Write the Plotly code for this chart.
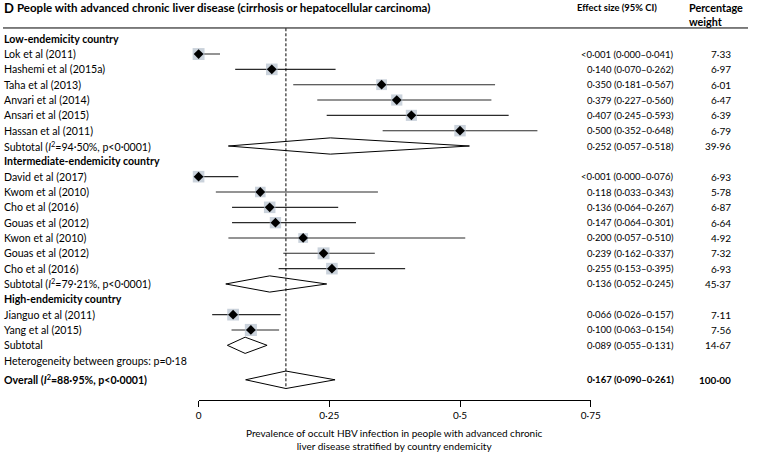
import plotly.graph_objects as go

# ---------------- data ----------------
group_names = ["Low-endemicity country", "Intermediate-endemicity country", "High-endemicity country"]
studies = ["Lok et al (2011)", "Hashemi et al (2015a)", "Taha et al (2013)", "Anvari et al (2014)",
           "Ansari et al (2015)", "Hassan et al (2011)",
           "David et al (2017)", "Kwom et al (2010)", "Cho et al (2016)", "Gouas et al (2012)",
           "Kwon et al (2010)", "Gouas et al (2012)", "Cho et al (2016)",
           "Jianguo et al (2011)", "Yang et al (2015)"]
study_group = [0, 0, 0, 0, 0, 0, 1, 1, 1, 1, 1, 1, 1, 2, 2]
est = [0.000, 0.140, 0.350, 0.379, 0.407, 0.500, 0.000, 0.118, 0.136, 0.147, 0.200, 0.239, 0.255, 0.066, 0.100]
lo = [0.000, 0.070, 0.181, 0.227, 0.245, 0.352, 0.000, 0.033, 0.064, 0.064, 0.057, 0.162, 0.153, 0.026, 0.063]
hi = [0.041, 0.262, 0.567, 0.560, 0.593, 0.648, 0.076, 0.343, 0.267, 0.301, 0.510, 0.337, 0.395, 0.157, 0.154]
weight = [7.33, 6.97, 6.01, 6.47, 6.39, 6.79, 6.93, 5.78, 6.87, 6.64, 4.92, 7.32, 6.93, 7.11, 7.56]

sub_labels = ["Subtotal (<i>I</i><sup>2</sup>=94·50%, p&lt;0·0001)",
              "Subtotal (<i>I</i><sup>2</sup>=79·21%, p&lt;0·0001)",
              "Subtotal"]
sub_est = [0.252, 0.136, 0.089]
sub_lo = [0.057, 0.052, 0.055]
sub_hi = [0.518, 0.245, 0.131]
sub_weight = [39.96, 45.37, 14.67]

het_label = "Heterogeneity between groups: p=0·18"
overall_label = "Overall (<i>I</i><sup>2</sup>=88·95%, p&lt;0·0001)"
overall_est, overall_lo, overall_hi, overall_weight = 0.167, 0.090, 0.261, 100.00

tick_vals = [0, 0.25, 0.5, 0.75]
tick_text = ["0", "0·25", "0·5", "0·75"]

title_text = "People with advanced chronic liver disease (cirrhosis or hepatocellular carcinoma)"
axis_title = ("Prevalence of occult HBV infection in people with advanced chronic<br>"
              "liver disease stratified by country endemicity")

# ---------------- helpers ----------------
FONT = "Lato"
FS_LABEL = 10.6
FS_NUM = 9.5
FS_W = 10
W, H = 758, 453


def fmt(v, allow_lt=False):
    if allow_lt and v < 0.0005:
        return "&lt;0·001"
    return f"{v:.3f}".replace(".", "·")


def ci_text(e, l, h):
    return f"{fmt(e, True)} ({fmt(l)}–{fmt(h)})"


def wfmt(w):
    return f"{w:.2f}".replace(".", "·")


# ---------------- row layout ----------------
r = 0
study_rows = [None] * len(studies)
sub_rows = []
header_rows = []
for g in range(len(group_names)):
    header_rows.append(r)
    r += 1
    for i, sg in enumerate(study_group):
        if sg == g:
            study_rows[i] = r
            r += 1
    sub_rows.append(r)
    r += 1
het_row = r
overall_row = r + 1.25

fig = go.Figure()

# CI lines
cx, cy = [], []
for i in range(len(studies)):
    cx += [lo[i], hi[i], None]
    cy += [study_rows[i], study_rows[i], None]
fig.add_trace(go.Scatter(x=cx, y=cy, mode="lines", line=dict(color="#2b2b2b", width=1.1),
                         hoverinfo="skip", showlegend=False, cliponaxis=False))

# weight squares
fig.add_trace(go.Scatter(x=est, y=study_rows, mode="markers", cliponaxis=False,
                         marker=dict(symbol="square", size=[4.4 * w ** 0.5 for w in weight],
                                     color="#b3bfcc", line=dict(width=0)),
                         hoverinfo="skip", showlegend=False))
# point diamonds
fig.add_trace(go.Scatter(x=est, y=study_rows, mode="markers", cliponaxis=False,
                         marker=dict(symbol="diamond", size=7.5, color="black", line=dict(width=0)),
                         hoverinfo="skip", showlegend=False))

# pooled diamonds
pool_est = sub_est + [overall_est]
pool_lo = sub_lo + [overall_lo]
pool_hi = sub_hi + [overall_hi]
pool_rows = sub_rows + [overall_row]
for e, l, h, rr in zip(pool_est, pool_lo, pool_hi, pool_rows):
    hk = 0.53 if rr != overall_row else 0.57
    fig.add_trace(go.Scatter(x=[l, e, h, e, l], y=[rr, rr - hk, rr, rr + hk, rr],
                             mode="lines", fill="toself", fillcolor="white", cliponaxis=False,
                             line=dict(color="black", width=1), hoverinfo="skip", showlegend=False))

# dashed line at overall estimate
fig.add_shape(type="line", xref="x", yref="y", x0=overall_est, x1=overall_est,
              y0=-0.68, y1=overall_row + 0.6, line=dict(color="black", width=1, dash="3px,2px"))

# header rule
fig.add_shape(type="line", xref="paper", yref="y", x0=0, x1=1, y0=-0.7, y1=-0.7,
              line=dict(color="black", width=1))

ann = []
EFF_X = 685 / W
WT_X = 743 / W


def left(text, row, bold=False):
    ann.append(dict(x=-1 / W, y=row, xref="paper", yref="y", xanchor="left", yanchor="middle",
                    text=f"<b>{text}</b>" if bold else text, showarrow=False,
                    font=dict(family=FONT, size=FS_LABEL, color="black")))


def right(text, row, xpos, size, bold=False):
    ann.append(dict(x=xpos, y=row, xref="paper", yref="y", xanchor="right", yanchor="middle",
                    text=f"<b>{text}</b>" if bold else text, showarrow=False,
                    font=dict(family=FONT, size=size, color="black")))


for g, hr in enumerate(header_rows):
    left(group_names[g], hr, bold=True)
for i, s in enumerate(studies):
    left(s, study_rows[i])
    right(ci_text(est[i], lo[i], hi[i]), study_rows[i], EFF_X, FS_NUM)
    right(wfmt(weight[i]), study_rows[i], WT_X, FS_W)
for g, sr in enumerate(sub_rows):
    left(sub_labels[g], sr)
    right(ci_text(sub_est[g], sub_lo[g], sub_hi[g]), sr, EFF_X, FS_NUM)
    right(wfmt(sub_weight[g]), sr, WT_X, FS_W)
left(het_label, het_row)
left(overall_label, overall_row, bold=True)
right(ci_text(overall_est, overall_lo, overall_hi), overall_row, EFF_X, FS_NUM, bold=True)
right(wfmt(overall_weight), overall_row, WT_X, FS_W, bold=True)

# headers
ann.append(dict(x=-1 / W, y=1 - 8 / H, xref="paper", yref="paper", xanchor="left", yanchor="middle",
                text="<b>D</b>", showarrow=False, font=dict(family=FONT, size=13, color="black")))
ann.append(dict(x=12 / W, y=1 - 8 / H, xref="paper", yref="paper", xanchor="left", yanchor="middle",
                text=f"<b>{title_text}</b>", showarrow=False,
                font=dict(family=FONT, size=11.5, color="black")))
ann.append(dict(x=582 / W, y=1 - 8 / H, xref="paper", yref="paper", xanchor="left", yanchor="middle",
                text="<b>Effect size (95% CI)</b>", showarrow=False,
                font=dict(family=FONT, size=9.4, color="black")))
ann.append(dict(x=696 / W, y=1 - 15 / H, xref="paper", yref="paper", xanchor="left", yanchor="middle",
                align="left", text="<b>Percentage<br>weight</b>", showarrow=False,
                font=dict(family=FONT, size=10.8, color="black")))
# axis title
ann.append(dict(x=(199 + 598) / 2 / W, y=1 - 439 / H, xref="paper", yref="paper",
                xanchor="center", yanchor="middle", align="center",
                text=axis_title, showarrow=False,
                font=dict(family=FONT, size=10, color="black")))

AXIS_Y = 400
top_row = -(38.7) / 15.33
bot_row = (AXIS_Y - 38.7) / 15.33

fig.update_layout(
    width=W, height=H, margin=dict(l=0, r=0, t=0, b=0),
    paper_bgcolor="white", plot_bgcolor="white",
    annotations=ann, showlegend=False,
    xaxis=dict(domain=[199 / W, 598 / W], range=[0, 0.75], showgrid=False, zeroline=False,
               showline=True, linecolor="black", linewidth=1, ticks="outside", ticklen=6,
               tickcolor="black", tickwidth=1, tickvals=tick_vals, ticktext=tick_text,
               tickfont=dict(family=FONT, size=10, color="black"), fixedrange=True),
    yaxis=dict(domain=[1 - AXIS_Y / H, 1], range=[bot_row, top_row], visible=False,
               showgrid=False, zeroline=False, fixedrange=True),
)

fig.write_html("out.html", config={"displayModeBar": False},
               post_script="document.body.style.margin='0';document.body.style.overflow='hidden';")
